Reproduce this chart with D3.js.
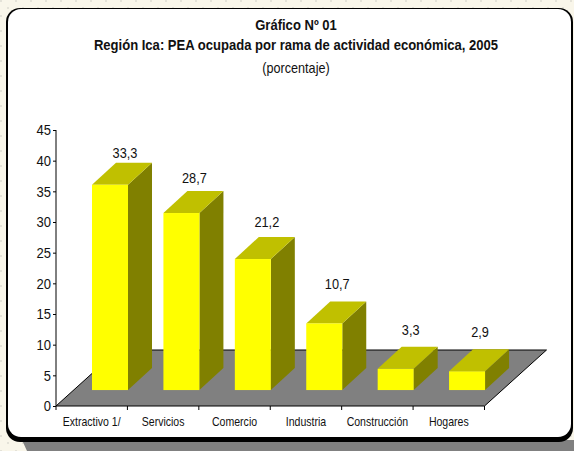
<!DOCTYPE html>
<html><head><meta charset="utf-8">
<script src="https://cdn.jsdelivr.net/npm/d3@7"></script>
<style>html,body{margin:0;padding:0;background:#f8f5e8}svg{display:block}
text{font-family:"Liberation Sans",Arial,sans-serif;fill:#111}</style></head>
<body><svg id="c" width="574" height="451"></svg>
<script>
const categories=["Extractivo 1/","Servicios","Comercio","Industria","Construcción","Hogares"];
const values=[33.3,28.7,21.2,10.7,3.3,2.9];
const valueLabels=["33,3","28,7","21,2","10,7","3,3","2,9"];
const yTicks=[0,5,10,15,20,25,30,35,40,45];
const titles=["Gráfico Nº 01","Región Ica: PEA ocupada por rama de actividad económica, 2005","(porcentaje)"];

const condense=(sel,k)=>sel.each(function(){
  this.setAttribute("textLength",(this.getComputedTextLength()*k).toFixed(1));
  this.setAttribute("lengthAdjust","spacingAndGlyphs");
});

const svg=d3.select("#c");
const defs=svg.append("defs");
const p=defs.append("pattern").attr("id","dots").attr("width",15).attr("height",15).attr("patternUnits","userSpaceOnUse");
p.append("rect").attr("width",15).attr("height",15).attr("fill","#f9f6ea");
[[0,0],[7,7]].forEach(([a,b])=>p.append("rect").attr("x",a).attr("y",b).attr("width",2).attr("height",2).attr("fill","#e4e2d8"));
svg.append("rect").attr("width",574).attr("height",451).attr("fill","url(#dots)");
// drop shadow
svg.append("path").attr("d","M22,440 L574,440 L574,451 L27,451 Z").attr("fill","#808080");
// card
svg.append("rect").attr("x",6).attr("y",8).attr("width",567).attr("height",434).attr("rx",14).attr("fill","#000");
svg.append("rect").attr("x",8).attr("y",9).attr("width",563).attr("height",428).attr("rx",13).attr("fill","#fff");

const x=d3.scaleBand().domain(categories).range([56,484.5]);
const y=d3.scaleLinear().domain([0,45]).range([406,130]);
const fdx=62,fdy=-56;     // floor depth
const bdx=24,bdy=-22;     // bar depth
const inset=36,bw=36,lift=y(0)-y(2.6);
// hand-placed data labels in the original sit at slightly different offsets
const labelShiftX=[0,-2,-1,-2,0,-2], labelShiftY=[-2,-5,-7,-9,-9,-9];

svg.append("path").attr("fill","#808080")
 .attr("d",`M${x.range()[0]},${y(0)} L${x.range()[0]+fdx},${y(0)+fdy} L${x.range()[1]+fdx},${y(0)+fdy} L${x.range()[1]},${y(0)} Z`);
svg.append("path").attr("fill","none").attr("stroke","#000")
 .attr("d",`M${x.range()[0]},${y(0)} L${x.range()[0]+fdx},${y(0)+fdy} L${x.range()[1]+fdx},${y(0)+fdy} L${x.range()[1]},${y(0)}`);

const g=svg.selectAll("g.bar").data(categories.map((c,i)=>({c,i,v:values[i],l:valueLabels[i]}))).join("g").attr("class","bar");
const X0=d=>x(d.c)+inset, B=y(0)-lift, T=d=>B-(y(0)-y(d.v))-1;
g.append("path").attr("fill","#808000").attr("d",d=>`M${X0(d)+bw},${T(d)} l${bdx},${bdy} V${B+bdy} l${-bdx},${-bdy} Z`);
g.append("path").attr("fill","#c0c000").attr("d",d=>`M${X0(d)},${T(d)} l${bdx},${bdy} h${bw} l${-bdx},${-bdy} Z`);
g.append("rect").attr("fill","#ffff00").attr("x",X0).attr("y",T).attr("width",bw).attr("height",d=>B-T(d));
g.append("text").attr("x",d=>X0(d)+bw/2+15+labelShiftX[d.i]).attr("y",d=>T(d)+bdy-3+labelShiftY[d.i]).attr("text-anchor","middle").attr("font-size",15).text(d=>d.l).call(condense,0.85);

const ax=svg.append("g").attr("transform","translate(56,0)").call(d3.axisLeft(y).tickValues(yTicks).tickSize(3).tickPadding(2).tickFormat(d3.format("d")));
ax.selectAll("text").attr("font-size",15.5).attr("font-family",null).attr("fill","#111").call(condense,0.84);
ax.selectAll("path,line").attr("stroke","#000");
ax.select("path").attr("d","M0,130V406");

const bx=svg.append("g").attr("transform",`translate(0,${y(0)})`).call(d3.axisBottom(x).tickSize(0).tickPadding(0).tickFormat(""));
bx.select("path").attr("d",`M${x.range()[0]},0H${x.range()[1]}`).attr("stroke","#000");
svg.selectAll("line.t").data([...categories.map(c=>x(c)),x.range()[1]]).join("line").attr("class","t")
 .attr("x1",d=>d).attr("x2",d=>d).attr("y1",y(0)).attr("y2",y(0)+4).attr("stroke","#000");
svg.selectAll("text.c").data(categories).join("text").attr("class","c")
 .attr("x",d=>x(d)+x.bandwidth()/2).attr("y",426).attr("text-anchor","middle").attr("font-size",13.5).text(d=>d).call(condense,0.78);

svg.selectAll("text.title").data(titles).join("text").attr("class","title")
 .attr("x",296).attr("y",(d,i)=>[30,50,73][i]).attr("text-anchor","middle")
 .attr("font-size",(d,i)=>i==2?14.5:15).attr("font-weight",(d,i)=>i==2?400:700).text(d=>d).call(condense,0.87);
</script></body></html>
